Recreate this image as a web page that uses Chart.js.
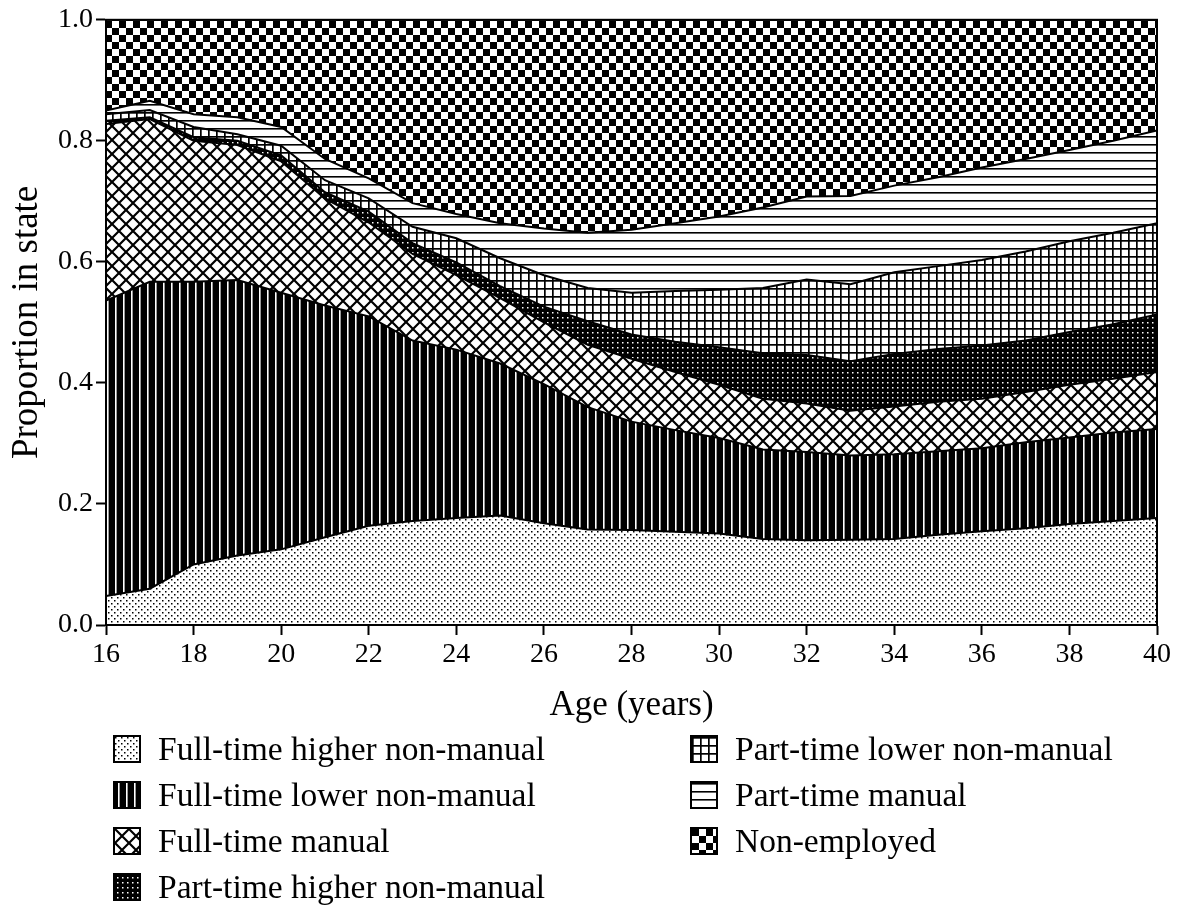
<!DOCTYPE html>
<html>
<head>
<meta charset="utf-8">
<script src="https://cdn.jsdelivr.net/npm/chart.js@4/dist/chart.umd.min.js"></script>
<style>
  body { margin: 0; background: #fff; }
  #wrap { position: relative; width: 1181px; height: 908px; }
  #grafico { position: absolute; left: 0; top: 0; }
  .item { position: absolute; display: flex; align-items: center; white-space: nowrap;
    font-family: 'Liberation Serif', 'Times New Roman', serif; font-size: 33.5px; color: #000; line-height: 1; }
  .item canvas { border: 2px solid #000; box-sizing: border-box; margin-right: 17px; }
</style>
</head>
<body>
<div id="wrap">
  <canvas id="grafico" width="1181" height="908"></canvas>
</div>
<script>
const edades = [16, 17, 18, 19, 20, 21, 22, 23, 24, 25, 26, 27, 28, 29, 30, 31, 32, 33, 34, 35, 36, 37, 38, 39, 40]

const nombres = [
  'Full-time higher non-manual',
  'Full-time lower non-manual',
  'Full-time manual',
  'Part-time higher non-manual',
  'Part-time lower non-manual',
  'Part-time manual',
  'Non-employed'
]

// proporciones, por estado y edad
const ftHigher = [0.048, 0.060, 0.100, 0.115, 0.125, 0.145, 0.164, 0.172, 0.177, 0.181, 0.168, 0.158, 0.157, 0.154, 0.151, 0.142, 0.140, 0.141, 0.142, 0.149, 0.155, 0.160, 0.167, 0.172, 0.177]
const ftLower = [0.488, 0.507, 0.467, 0.455, 0.424, 0.383, 0.346, 0.298, 0.278, 0.251, 0.230, 0.202, 0.179, 0.168, 0.158, 0.148, 0.146, 0.139, 0.140, 0.138, 0.137, 0.142, 0.143, 0.146, 0.147]
const ftManual = [0.292, 0.269, 0.233, 0.223, 0.217, 0.177, 0.155, 0.143, 0.123, 0.108, 0.102, 0.103, 0.104, 0.096, 0.088, 0.084, 0.080, 0.074, 0.079, 0.082, 0.082, 0.083, 0.087, 0.089, 0.094]
const ptHigher = [0.005, 0.003, 0.006, 0.007, 0.010, 0.010, 0.018, 0.018, 0.021, 0.020, 0.026, 0.039, 0.040, 0.050, 0.062, 0.075, 0.080, 0.082, 0.087, 0.087, 0.088, 0.085, 0.087, 0.090, 0.095]
const ptLower = [0.011, 0.012, 0.017, 0.011, 0.016, 0.020, 0.022, 0.027, 0.040, 0.046, 0.052, 0.055, 0.069, 0.084, 0.095, 0.108, 0.125, 0.127, 0.135, 0.137, 0.141, 0.147, 0.150, 0.151, 0.151]
const ptManual = [0.006, 0.015, 0.021, 0.028, 0.031, 0.035, 0.033, 0.039, 0.040, 0.058, 0.077, 0.091, 0.104, 0.112, 0.121, 0.133, 0.137, 0.146, 0.143, 0.147, 0.153, 0.153, 0.151, 0.152, 0.153]
const noEmpleo = [0.150, 0.134, 0.156, 0.161, 0.177, 0.230, 0.262, 0.303, 0.321, 0.336, 0.345, 0.352, 0.347, 0.336, 0.325, 0.310, 0.292, 0.291, 0.274, 0.260, 0.244, 0.230, 0.215, 0.200, 0.183]

const ticksY = [0, 0.2, 0.4, 0.6, 0.8, 1.0]

const series = [ftHigher, ftLower, ftManual, ptHigher, ptLower, ptManual, noEmpleo]
const tramas = ['puntos', 'rayas', 'rombos', 'oscuro', 'rejilla', 'lineas', 'damero']

const fuente = "'Liberation Serif', 'Times New Roman', serif"

// dibuja la celda de cada trama y devuelve el canvas
const celdaTrama = (tipo) => {
  const c = document.createElement('canvas')
  const g = c.getContext('2d')
  const fondo = (w, h, col) => { c.width = w; c.height = h; g.fillStyle = col; g.fillRect(0, 0, w, h); g.fillStyle = '#000' }
  switch (tipo) {
    case 'puntos':
      fondo(6, 6, '#fff')
      g.fillRect(0, 0, 1.5, 1.5)
      g.fillRect(3, 3, 1.5, 1.5)
      break
    case 'rayas':
      fondo(8, 4, '#000')
      g.fillStyle = '#fff'
      g.fillRect(3, 0, 1.6, 4)
      break
    case 'rombos':
      fondo(14, 14, '#fff')
      g.strokeStyle = '#000'
      g.lineWidth = 2.2
      g.beginPath()
      g.moveTo(-2, -2); g.lineTo(16, 16)
      g.moveTo(16, -2); g.lineTo(-2, 16)
      g.stroke()
      break
    case 'oscuro':
      fondo(5, 5, '#000')
      g.fillStyle = '#fff'
      g.fillRect(2, 2, 1.5, 1.5)
      break
    case 'rejilla':
      fondo(8, 8, '#fff')
      g.fillRect(0, 0, 8, 1.7)
      g.fillRect(0, 0, 1.7, 8)
      break
    case 'lineas':
      fondo(4, 8, '#fff')
      g.fillRect(0, 0, 4, 1.6)
      break
    case 'damero':
      fondo(14, 14, '#fff')
      g.fillRect(0, 0, 7, 7)
      g.fillRect(7, 7, 7, 7)
      break
  }
  return c
}

const ctx = document.getElementById('grafico').getContext('2d')
const patrones = tramas.map(t => ctx.createPattern(celdaTrama(t), 'repeat'))

const datasets = series.map((valores, i) => ({
  label: nombres[i],
  data: edades.map((x, j) => ({ x, y: valores[j] })),
  backgroundColor: patrones[i],
  borderColor: '#000',
  borderWidth: 2,
  pointRadius: 0,
  tension: 0,
  fill: i === 0 ? 'origin' : '-1'
}))

// marco del area de dibujo (lados superior y derecho)
const marco = {
  id: 'marco',
  afterDatasetsDraw (chart) {
    const a = chart.chartArea
    const g = chart.ctx
    g.save()
    g.strokeStyle = '#000'
    g.lineWidth = 2
    g.strokeRect(a.left, a.top, a.right - a.left, a.bottom - a.top)
    g.restore()
  }
}

new Chart(ctx, {
  type: 'line',
  data: { datasets },
  options: {
    responsive: false,
    animation: false,
    layout: { padding: { top: 15, right: 24, bottom: 173, left: 0 } },
    plugins: { legend: { display: false }, tooltip: { enabled: false } },
    scales: {
      x: {
        type: 'linear',
        min: 16,
        max: 40,
        afterFit: (s) => { s.height = 110 },
        ticks: { stepSize: 2, color: '#000', font: { family: fuente, size: 28 }, padding: 3, maxRotation: 0 },
        grid: { drawOnChartArea: false, color: '#000', tickLength: 10, tickWidth: 2 },
        border: { color: '#000', width: 2 },
        title: { display: true, text: 'Age (years)', color: '#000', font: { family: fuente, size: 35 }, padding: { top: 0, bottom: 8 } }
      },
      y: {
        stacked: true,
        min: 0,
        max: 1,
        afterFit: (s) => { s.width = 106 },
        afterBuildTicks: (s) => { s.ticks = ticksY.map(v => ({ value: v })) },
        ticks: { color: '#000', font: { family: fuente, size: 28 }, padding: 3, callback: (v) => v.toFixed(1) },
        grid: { drawOnChartArea: false, color: '#000', tickLength: 10, tickWidth: 2 },
        border: { color: '#000', width: 2 },
        title: { display: true, text: 'Proportion in state', color: '#000', font: { family: fuente, size: 37 }, padding: { top: 5, bottom: 0 } }
      }
    }
  },
  plugins: [marco]
})

// leyenda en dos columnas, como en el original
const wrap = document.getElementById('wrap')
nombres.forEach((nombre, i) => {
  const col = i < 4 ? 0 : 1
  const fila = i < 4 ? i : i - 4
  const item = document.createElement('div')
  item.className = 'item'
  item.style.left = (col === 0 ? 113 : 690) + 'px'
  item.style.top = (732 + fila * 46) + 'px'
  const muestra = document.createElement('canvas')
  muestra.width = 24
  muestra.height = 24
  const mg = muestra.getContext('2d')
  mg.fillStyle = mg.createPattern(celdaTrama(tramas[i]), 'repeat')
  mg.fillRect(0, 0, 24, 24)
  item.appendChild(muestra)
  const texto = document.createElement('span')
  texto.textContent = nombre
  item.appendChild(texto)
  wrap.appendChild(item)
})
</script>
</body>
</html>
